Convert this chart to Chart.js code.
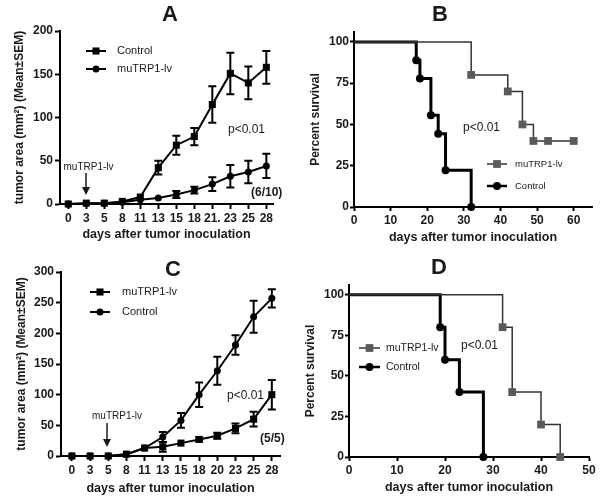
<!DOCTYPE html>
<html>
<head>
<meta charset="utf-8">
<script src="https://cdn.jsdelivr.net/npm/chart.js@4.4.0/dist/chart.umd.min.js"></script>
<style>
  html, body { margin: 0; padding: 0; background: #fff; }
  #wrap { position: relative; width: 601px; height: 501px; }
  canvas { position: absolute; }
</style>
</head>
<body>
<div id="wrap">
  <canvas id="chartA" width="300" height="250" style="left:0;top:0"></canvas>
  <canvas id="chartB" width="301" height="250" style="left:300px;top:0"></canvas>
  <canvas id="chartC" width="300" height="251" style="left:0;top:250px"></canvas>
  <canvas id="chartD" width="301" height="251" style="left:300px;top:250px"></canvas>
</div>
<script>
// panel A - tumor growth
const daysA = ["0", "3", "5", "8", "11", "13", "15", "18", "21.", "23", "25", "28"];
const controlA = [0, 1, 1, 3, 8, 42, 68, 78, 115, 151, 140, 158];
const controlSemA = [0, 0, 0, 0, 0, 8, 11, 10, 21, 24, 19, 19];
const trpA = [0, 0.5, 1, 2, 5, 7, 11, 16, 23, 32, 37, 44];
const trpSemA = [0, 0, 0, 0, 0, 0, 4, 4, 8, 13, 13, 14];
const yTicksA = [0, 50, 100, 150, 200];

// panel B - survival
const trpDaysB = [0, 32, 42, 46, 49, 53, 60];
const trpSurvB = [100, 80, 70, 50, 40, 40, 40];
const ctlDaysB = [0, 17, 18, 21, 23, 25, 32];
const ctlSurvB = [100, 88.9, 77.8, 55.6, 44.4, 22.2, 0];
const xTicksB = [0, 10, 20, 30, 40, 50, 60];

// panel C - tumor growth
const daysC = ["0", "3", "5", "8", "11", "13", "15", "18", "20", "23", "25", "28"];
const trpC = [0, 0, 0, 3, 13, 15, 21, 27, 33, 45, 60, 100];
const trpSemC = [0, 0, 0, 0, 0, 8, 0, 3, 5, 8, 12, 24];
const controlC = [0, 0, 0, 3, 13, 31, 58, 100, 139, 181, 227, 257];
const controlSemC = [0, 0, 0, 0, 0, 8, 12, 20, 23, 16, 26, 15];
const yTicksC = [0, 50, 100, 150, 200, 250, 300];

// panel D - survival
const trpDaysD = [0, 32, 34, 40, 44];
const trpSurvD = [100, 80, 40, 20, 0];
const ctlDaysD = [0, 19, 20, 23, 28];
const ctlSurvD = [100, 80, 60, 40, 0];
const xTicksD = [0, 10, 20, 30, 40, 50];

const survTicks = [0, 25, 50, 75, 100];

const FONT = "'Liberation Sans', Arial, sans-serif";
const INK = '#1a1a1a';
const xTitle = 'days after tumor inoculation';

// texts, legend and arrows for each panel (canvas coords)
const panels = {
  chartA: {
    letter: 'A', lx: 170, ly: 15,
    notes: [
      { t: 'p<0.01', x: 228, y: 130, f: '12px' },
      { t: '(6/10)', x: 251, y: 193, f: 'bold 12px' },
      { t: 'muTRP1-lv', x: 88.5, y: 167, f: '10px', align: 'center' }
    ],
    arrow: { x: 86, y1: 173, y2: 195 },
    legend: { x1: 86, x2: 106, tx: 117, ys: [51, 69], f: '11px' }
  },
  chartB: {
    letter: 'B', lx: 140, ly: 15,
    notes: [{ t: 'p<0.01', x: 163, y: 128, f: '12px' }],
    legend: { x1: 187, x2: 207, tx: 215, ys: [164, 186], f: '9.5px' }
  },
  chartC: {
    letter: 'C', lx: 173, ly: 20,
    notes: [
      { t: 'p<0.01', x: 227, y: 146, f: '12px' },
      { t: '(5/5)', x: 260, y: 189, f: 'bold 12px' },
      { t: 'muTRP1-lv', x: 117, y: 166, f: '10px', align: 'center' }
    ],
    arrow: { x: 107, y1: 173, y2: 197 },
    legend: { x1: 90, x2: 110, tx: 122, ys: [42, 62], f: '11px' }
  },
  chartD: {
    letter: 'D', lx: 139, ly: 18,
    notes: [{ t: 'p<0.01', x: 161, y: 96, f: '12px' }],
    legend: { x1: 59, x2: 80, tx: 86, ys: [98, 117], f: '10.5px' }
  }
};

function mark(ctx, style, x, y, r, color) {
  ctx.fillStyle = color;
  ctx.beginPath();
  if (style === 'rect') {
    const h = r * Math.SQRT1_2;
    ctx.rect(x - h, y - h, 2 * h, 2 * h);
  } else {
    ctx.arc(x, y, r, 0, Math.PI * 2);
  }
  ctx.fill();
}

// SEM error bars
const errorBars = {
  id: 'errorBars',
  afterDatasetsDraw(chart) {
    const ctx = chart.ctx, ys = chart.scales.y;
    chart.data.datasets.forEach((ds, i) => {
      if (!ds.sem) return;
      const meta = chart.getDatasetMeta(i);
      ctx.save();
      ctx.strokeStyle = '#000';
      ctx.lineWidth = 2;
      meta.data.forEach((pt, j) => {
        const e = ds.sem[j];
        if (!e) return;
        const v = ds.data[j].y;
        const top = ys.getPixelForValue(v + e);
        const bot = ys.getPixelForValue(Math.max(v - e, 0));
        ctx.beginPath();
        ctx.moveTo(pt.x, top); ctx.lineTo(pt.x, bot);
        ctx.moveTo(pt.x - 4, top); ctx.lineTo(pt.x + 4, top);
        ctx.moveTo(pt.x - 4, bot); ctx.lineTo(pt.x + 4, bot);
        ctx.stroke();
      });
      ctx.restore();
    });
  }
};

// panel letter, notes, arrow and the little legend
const panelText = {
  id: 'panelText',
  afterDraw(chart) {
    const p = panels[chart.canvas.id];
    if (!p) return;
    const ctx = chart.ctx;
    ctx.save();
    ctx.fillStyle = INK;
    ctx.textBaseline = 'middle';
    ctx.textAlign = 'center';
    ctx.font = 'bold 22px ' + FONT;
    ctx.fillText(p.letter, p.lx, p.ly);
    p.notes.forEach(n => {
      ctx.font = n.f + ' ' + FONT;
      ctx.textAlign = n.align || 'left';
      ctx.fillText(n.t, n.x, n.y);
    });
    if (p.arrow) {
      const a = p.arrow;
      ctx.strokeStyle = INK;
      ctx.lineWidth = 1.5;
      ctx.beginPath();
      ctx.moveTo(a.x, a.y1); ctx.lineTo(a.x, a.y2 - 5);
      ctx.stroke();
      ctx.beginPath();
      ctx.moveTo(a.x - 4, a.y2 - 8); ctx.lineTo(a.x + 4, a.y2 - 8); ctx.lineTo(a.x, a.y2);
      ctx.closePath();
      ctx.fill();
    }
    const lg = p.legend;
    chart.data.datasets.forEach((ds, i) => {
      const y = lg.ys[i];
      ctx.strokeStyle = ds.borderColor;
      ctx.lineWidth = Math.min(ds.borderWidth, 2.5);
      ctx.beginPath();
      ctx.moveTo(lg.x1, y); ctx.lineTo(lg.x2, y);
      ctx.stroke();
      const r = Array.isArray(ds.pointRadius) ? ds.pointRadius[ds.pointRadius.length - 1] : ds.pointRadius;
      mark(ctx, ds.pointStyle, (lg.x1 + lg.x2) / 2, y, r, ds.pointBackgroundColor);
      ctx.fillStyle = INK;
      ctx.font = lg.f + ' ' + FONT;
      ctx.textAlign = 'left';
      ctx.fillText(ds.label, lg.tx, y);
    });
    ctx.restore();
  }
};

function axis(o) {
  return {
    type: 'linear',
    min: o.min,
    max: o.max,
    border: { color: '#000', width: 2 },
    grid: { drawOnChartArea: false, drawTicks: true, tickLength: o.tl, tickWidth: 2, tickColor: '#000' },
    ticks: {
      color: INK,
      font: { family: FONT, size: 12, weight: 'bold' },
      padding: o.pad,
      autoSkip: false,
      maxRotation: 0,
      callback: o.labels ? (v) => o.labels[v] : (v) => v
    },
    title: {
      display: true,
      text: o.title,
      color: INK,
      font: { family: FONT, size: o.ts, weight: 'bold' },
      padding: o.tpad
    },
    afterBuildTicks: (s) => {
      if (o.labels) s.ticks = o.labels.map((_, i) => ({ value: i }));
      else s.ticks = o.ticks.map(v => ({ value: v }));
    },
    afterFit: o.fit
  };
}

function growthDataset(label, labels, vals, sem, style, r) {
  return {
    label: label,
    data: labels.map((_, i) => ({ x: i, y: vals[i] })),
    sem: sem,
    borderColor: '#000',
    borderWidth: 2,
    pointStyle: style,
    pointRadius: r,
    pointBorderWidth: 0,
    pointBackgroundColor: '#000',
    clip: false
  };
}

function survDataset(label, days, surv, style, r, line, fill, width) {
  return {
    label: label,
    data: days.map((d, i) => ({ x: d, y: surv[i] })),
    stepped: true,
    borderColor: line,
    borderWidth: width,
    pointStyle: style,
    pointRadius: days.map((_, i) => (i === 0 ? 0 : r)),
    pointBorderWidth: 0,
    pointBackgroundColor: fill,
    clip: false
  };
}

const baseOpts = (pad, xs, ys) => ({
  responsive: false,
  animation: false,
  devicePixelRatio: 1,
  layout: { padding: pad },
  plugins: { legend: { display: false }, tooltip: { enabled: false } },
  scales: { x: xs, y: ys }
});

const yGrowthTitle = 'tumor area (mm\u00b2) (Mean\u00b1SEM)';

new Chart(document.getElementById('chartA'), {
  type: 'line',
  data: {
    datasets: [
      growthDataset('Control', daysA, controlA, controlSemA, 'rect', 5),
      growthDataset('muTRP1-lv', daysA, trpA, trpSemA, 'circle', 3.5)
    ]
  },
  options: baseOpts({ left: 0, top: 31, right: 27, bottom: 0 },
    axis({ min: -0.46, max: 11.37, labels: daysA, tl: 5, pad: 2, title: xTitle, ts: 12.5,
      tpad: { top: 0, bottom: 7.5 }, fit: s => { s.height = 46; } }),
    axis({ min: 0, max: 200, ticks: yTicksA, tl: 5, pad: 2, title: yGrowthTitle, ts: 12,
      tpad: { top: 12, bottom: 0 }, fit: s => { s.width = 60; } })),
  plugins: [errorBars, panelText]
});

new Chart(document.getElementById('chartB'), {
  type: 'line',
  data: {
    datasets: [
      survDataset('muTRP1-lv', trpDaysB, trpSurvB, 'rect', 5.5, '#333', '#5a5a5a', 1.5),
      survDataset('Control', ctlDaysB, ctlSurvB, 'circle', 4, '#000', '#000', 3)
    ]
  },
  options: baseOpts({ left: 0, top: 32, right: 9, bottom: 0 },
    axis({ min: 0, max: 65, ticks: xTicksB, tl: 4, pad: 2, title: xTitle, ts: 12.5,
      tpad: { top: 0, bottom: 4.5 }, fit: s => { s.height = 43; } }),
    axis({ min: 0, max: 106, ticks: survTicks, tl: 4, pad: 1, title: 'Percent survival', ts: 12,
      tpad: { top: 8, bottom: 0 }, fit: s => { s.width = 54; } })),
  plugins: [panelText]
});

new Chart(document.getElementById('chartC'), {
  type: 'line',
  data: {
    datasets: [
      growthDataset('muTRP1-lv', daysC, trpC, trpSemC, 'rect', 5),
      growthDataset('Control', daysC, controlC, controlSemC, 'circle', 3.5)
    ]
  },
  options: baseOpts({ left: 0, top: 22, right: 20, bottom: 0 },
    axis({ min: -0.6, max: 11.45, labels: daysC, tl: 5, pad: 2, title: xTitle, ts: 12.5,
      tpad: { top: 0, bottom: 4.5 }, fit: s => { s.height = 45; } }),
    axis({ min: 0, max: 300, ticks: yTicksC, tl: 5, pad: 2, title: yGrowthTitle, ts: 12,
      tpad: { top: 14, bottom: 0 }, fit: s => { s.width = 61; } })),
  plugins: [errorBars, panelText]
});

new Chart(document.getElementById('chartD'), {
  type: 'line',
  data: {
    datasets: [
      survDataset('muTRP1-lv', trpDaysD, trpSurvD, 'rect', 5.5, '#333', '#5a5a5a', 1.5),
      survDataset('Control', ctlDaysD, ctlSurvD, 'circle', 4, '#000', '#000', 3)
    ]
  },
  options: baseOpts({ left: 0, top: 35, right: 12, bottom: 0 },
    axis({ min: 0, max: 50, ticks: xTicksD, tl: 4, pad: 2, title: xTitle, ts: 12.5,
      tpad: { top: 0, bottom: 5.5 }, fit: s => { s.height = 44; } }),
    axis({ min: 0, max: 106, ticks: survTicks, tl: 4, pad: 1, title: 'Percent survival', ts: 12,
      tpad: { top: 3, bottom: 0 }, fit: s => { s.width = 49; } })),
  plugins: [panelText]
});
</script>
</body>
</html>
